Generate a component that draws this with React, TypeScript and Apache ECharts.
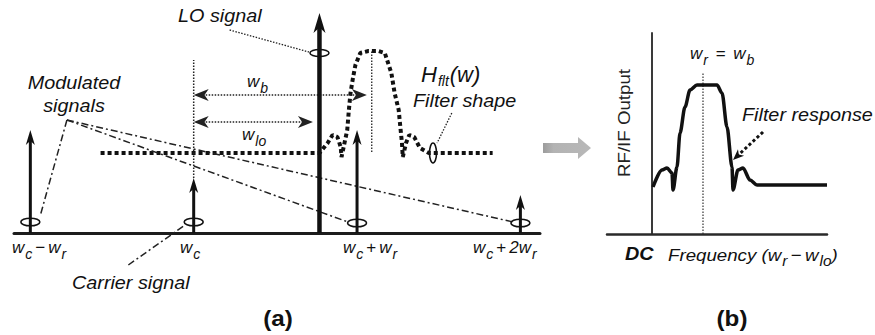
import React, { useEffect, useRef } from "react";
import * as echarts from "echarts";

// ---------- Panel (a): spectrum around the carrier (frequency unit: w_r = 100, w_c = 0) ----------
const signalFreq = [-100, 0, 100, 200]; // w_c−w_r, w_c, w_c+w_r, w_c+2w_r
const signalAmp = [103, 55, 103, 38];
const signalMarkerAmp = [11, 11, 10, 10];
const loFreq = [77];
const loAmp = [220];
const loMarkerAmp = [180];
const filterFreq = [-57, 77, 82, 85, 88, 90, 90.5, 94, 95, 96, 97.5, 99, 102, 107, 113, 117, 121, 123, 125.5, 126.5, 127.5, 128, 130, 132, 135, 138.5, 144, 183];
const filterAmp = [80, 80, 90, 98, 96, 86, 76, 103, 123, 140, 155, 168, 180, 182, 182, 180, 160, 140, 123, 106, 90, 76, 90, 98, 96, 85, 80, 80];
const filterMarker = [146.5, 80];
const filterCenterFreq = 109;
const filterCenterSpan = [81, 182];
const wbSpan = [0, 106];
const wbLevel = 138;
const wloSpan = [0, 73];
const wloLevel = 111;
const carrierGuide = [55, 173];

// annotation leader lines in panel (a) data units: [x1, y1, x2, y2]
const modulatedLeaders = [
  [-77.6, 113, -94, 17],
  [-77.6, 113, 94.5, 11],
  [-77.6, 113, 195.5, 11],
];
const carrierLeader = [[-40, -32, -5.3, 8]];
const loLeader = [[22, 203, 70.5, 181]];
const filterLeader = [[158, 120, 149, 90]];

// ---------- Panel (b): down-converted output ----------
const respFreq = [1, 10, 15, 20, 21, 25, 28, 33, 38, 45, 65, 70, 75, 80, 81, 86, 91, 98, 105, 175];
const respOut = [47, 64, 66, 61, 44, 67, 101, 127, 144, 149, 149, 141, 107, 67, 44, 64, 66, 54, 49, 49];
const wbB = 51;
const wbBSpan = [0, 162];
const respLeader = [[111, 102, 81, 74]];

const FF = '"Liberation Sans", Arial, Helvetica, sans-serif';
const INK = "#111";

type Head = { from?: boolean; to?: boolean; len: number; wid: number };

function segSeries(id: string, grid: number, data: number[][], color: string, width: number, dash: number[] | null, head?: Head, z = 3) {
  return {
    type: "custom",
    id,
    coordinateSystem: "cartesian2d",
    xAxisIndex: grid,
    yAxisIndex: grid,
    silent: true,
    z,
    data,
    encode: { x: [0, 2], y: [1, 3] },
    renderItem: (_p: any, api: any) => {
      const p1 = api.coord([api.value(0), api.value(1)]);
      const p2 = api.coord([api.value(2), api.value(3)]);
      const dx = p2[0] - p1[0];
      const dy = p2[1] - p1[1];
      const L = Math.hypot(dx, dy) || 1;
      const ux = dx / L;
      const uy = dy / L;
      const nx = -uy;
      const ny = ux;
      const children: any[] = [];
      let a = p1;
      let b = p2;
      const mkHead = (tip: number[], ddx: number, ddy: number) => {
        const h = head as Head;
        const bx = tip[0] - ddx * h.len;
        const by = tip[1] - ddy * h.len;
        const kx = tip[0] - ddx * h.len * 0.72;
        const ky = tip[1] - ddy * h.len * 0.72;
        return {
          type: "polygon",
          shape: {
            points: [
              [tip[0], tip[1]],
              [bx + (nx * h.wid) / 2, by + (ny * h.wid) / 2],
              [kx, ky],
              [bx - (nx * h.wid) / 2, by - (ny * h.wid) / 2],
            ],
          },
          style: { fill: color },
        };
      };
      if (head && head.to) {
        b = [p2[0] - ux * head.len * 0.6, p2[1] - uy * head.len * 0.6];
        children.push(mkHead(p2, ux, uy));
      }
      if (head && head.from) {
        a = [p1[0] + ux * head.len * 0.6, p1[1] + uy * head.len * 0.6];
        children.push(mkHead(p1, -ux, -uy));
      }
      children.unshift({
        type: "line",
        shape: { x1: a[0], y1: a[1], x2: b[0], y2: b[1] },
        style: { stroke: color, lineWidth: width, lineDash: dash || undefined, fill: "none" },
      });
      return { type: "group", children };
    },
  };
}

function ellipseSeries(id: string, data: number[][], rx: number, ry: number) {
  return {
    type: "custom",
    id,
    coordinateSystem: "cartesian2d",
    xAxisIndex: 0,
    yAxisIndex: 0,
    silent: true,
    z: 5,
    data,
    renderItem: (_p: any, api: any) => {
      const p = api.coord([api.value(0), api.value(1)]);
      return {
        type: "ellipse",
        shape: { cx: p[0], cy: p[1], rx, ry },
        style: { fill: "none", stroke: INK, lineWidth: 1.6 },
      };
    },
  };
}

const mathRich = {
  m: { fontFamily: FF, fontSize: 17, fontStyle: "italic", fill: INK },
  s: { fontFamily: FF, fontSize: 14, fontStyle: "italic", fill: INK, padding: [13, 0, 0, 1] },
  o: { fontFamily: FF, fontSize: 17, fill: INK, padding: [0, 3, 0, 3] },
  t: { fontFamily: FF, fontSize: 17, fontStyle: "italic", fill: INK },
  h: { fontFamily: FF, fontSize: 22, fontStyle: "italic", fill: INK },
  f: { fontFamily: FF, fontSize: 14, fontStyle: "italic", fill: INK, padding: [13, 1, 0, 1] },
};

function txt(x: number, y: number, text: string, o: any = {}) {
  return {
    type: "text",
    x,
    y,
    scaleX: o.scaleX ?? 1,
    rotation: o.rotation ?? 0,
    silent: true,
    z: 10,
    style: {
      text,
      fontFamily: FF,
      fontSize: o.size ?? 17,
      fontStyle: o.fontStyle ?? "italic",
      fontWeight: o.weight ?? "normal",
      fill: o.color ?? INK,
      align: o.align ?? "left",
      verticalAlign: "middle",
      rich: o.rich,
    },
  };
}

export default function App() {
  const ref = useRef<HTMLDivElement>(null);
  useEffect(() => {
    if (!ref.current) return;
    const chart = echarts.init(ref.current, null, { renderer: "svg" });
    const hiddenAxis = { axisTick: { show: false }, axisLabel: { show: false }, splitLine: { show: false } };
    const option: any = {
      animation: false,
      backgroundColor: "#fff",
      grid: [
        { left: 14, width: 526, top: 13, height: 320 },
        { left: 607, width: 220, top: 33, height: 201 },
      ],
      xAxis: [
        { gridIndex: 0, type: "value", min: -110, max: 212, ...hiddenAxis, axisLine: { show: true, onZero: true, lineStyle: { color: "#1c1c1c", width: 3 } } },
        { gridIndex: 1, type: "value", min: -45, max: 175, ...hiddenAxis, axisLine: { show: true, onZero: true, lineStyle: { color: "#2a2a2a", width: 2.5 } } },
      ],
      yAxis: [
        { gridIndex: 0, type: "value", min: -100, max: 220, ...hiddenAxis, axisLine: { show: false } },
        { gridIndex: 1, type: "value", min: 0, max: 201, ...hiddenAxis, axisLine: { show: true, onZero: true, lineStyle: { color: "#3a3a3a", width: 2 } } },
      ],
      series: [
        {
          type: "line",
          id: "filterShape",
          xAxisIndex: 0,
          yAxisIndex: 0,
          data: filterFreq.map((f, i) => [f, filterAmp[i]]),
          symbol: "none",
          silent: true,
          z: 2,
          lineStyle: { color: INK, width: 4, type: [4, 3], cap: "butt" },
        },
        segSeries("carrierGuide", 0, [[0, carrierGuide[0], 0, carrierGuide[1]]], "#222", 1.5, [1.5, 1.5]),
        segSeries("filterCenter", 0, [[filterCenterFreq, filterCenterSpan[0], filterCenterFreq, filterCenterSpan[1]]], "#222", 1.3, [1.5, 1.5]),
        segSeries("wbArrows", 0, [
          [wbSpan[0], wbLevel, wbSpan[1], wbLevel],
          [wloSpan[0], wloLevel, wloSpan[1], wloLevel],
        ], "#222", 1.5, [1.5, 1.5], { from: true, to: true, len: 15, wid: 12 }),
        segSeries("signals", 0, signalFreq.map((f, i) => [f, 0, f, signalAmp[i]]), INK, 3, null, { to: true, len: 15, wid: 9 }, 4),
        segSeries("lo", 0, loFreq.map((f, i) => [f, 0, f, loAmp[i]]), INK, 4.5, null, { to: true, len: 20, wid: 12 }, 4),
        segSeries("modLeaders", 0, [...modulatedLeaders, ...carrierLeader], "#222", 1.5, [7, 3, 2, 3]),
        segSeries("loLeader", 0, [...loLeader, ...filterLeader], "#222", 1.3, [1.5, 1.5]),
        ellipseSeries("signalMarkers", signalFreq.map((f, i) => [f, signalMarkerAmp[i]]), 9.5, 3.8),
        ellipseSeries("loMarker", loFreq.map((f, i) => [f, loMarkerAmp[i]]), 9.5, 3.5),
        ellipseSeries("filterMarker", [filterMarker], 3.5, 10),
        {
          type: "line",
          id: "response",
          xAxisIndex: 1,
          yAxisIndex: 1,
          data: respFreq.map((f, i) => [f, respOut[i]]),
          symbol: "none",
          smooth: 0.3,
          smoothMonotone: "x",
          silent: true,
          z: 3,
          lineStyle: { color: INK, width: 3.5, join: "round" },
        },
        segSeries("wbB", 1, [[wbB, wbBSpan[0], wbB, wbBSpan[1]]], "#333", 1.2, [1.5, 1.5]),
        segSeries("respLeader", 1, respLeader, INK, 3, [3, 2.5], { to: true, len: 11, wid: 9 }),
      ],
      graphic: [
        {
          type: "polygon",
          silent: true,
          shape: { points: [[543, 143], [578, 143], [578, 137], [591, 148], [578, 159], [578, 153], [543, 153]] },
          style: {
            fill: new echarts.graphic.LinearGradient(0, 0, 1, 0, [
              { offset: 0, color: "#9c9c9c" },
              { offset: 0.22, color: "#b3b3b3" },
              { offset: 1, color: "#b8b8b8" },
            ]),
          },
        },
        txt(178, 15.5, "LO signal", { size: 18, scaleX: 1.1 }),
        txt(74, 83, "Modulated", { size: 18, scaleX: 1.1, align: "center" }),
        txt(74, 106, "signals", { size: 18, scaleX: 1.1, align: "center" }),
        txt(72, 282.5, "Carrier signal", { size: 18, scaleX: 1.1 }),
        txt(413, 101, "Filter shape", { size: 18, scaleX: 1.1 }),
        txt(421, 74, "{h|H}{f|flt}{h|(w)}", { rich: mathRich }),
        txt(247, 81, "{m|w}{s|b}", { rich: mathRich }),
        txt(242, 134, "{m|w}{s|lo}", { rich: mathRich }),
        txt(12, 247.5, "{m|w}{s|c}{o|−}{m|w}{s|r}", { rich: mathRich }),
        txt(180, 247.5, "{m|w}{s|c}", { rich: mathRich }),
        txt(343, 247.5, "{m|w}{s|c}{o|+}{m|w}{s|r}", { rich: mathRich }),
        txt(473, 247.5, "{m|w}{s|c}{o|+}{m|2w}{s|r}", { rich: mathRich }),
        txt(690, 53, "{m|w}{s|r}{o| = }{m|w}{s|b}", { rich: mathRich }),
        txt(742, 115, "Filter response", { size: 18, scaleX: 1.1 }),
        txt(624, 123, "RF/IF Output", { size: 17, scaleX: 1.1, fontStyle: "normal", rotation: Math.PI / 2, align: "center", color: "#222" }),
        txt(625, 254, "DC", { size: 18, weight: "bold", scaleX: 1.1 }),
        txt(668, 255, "{t|Frequency (}{m|w}{s|r}{o|−}{m|w}{s|lo}{t|)}", { rich: mathRich, scaleX: 1.1 }),
        txt(278, 318, "(a)", { size: 22, weight: "bold", fontStyle: "normal", align: "center", scaleX: 1.1 }),
        txt(732, 318, "(b)", { size: 22, weight: "bold", fontStyle: "normal", align: "center", scaleX: 1.1 }),
      ],
    };
    chart.setOption(option);
    return () => chart.dispose();
  }, []);
  return <div ref={ref} style={{ position: "absolute", left: 0, top: 0, width: 875, height: 335 }} />;
}
